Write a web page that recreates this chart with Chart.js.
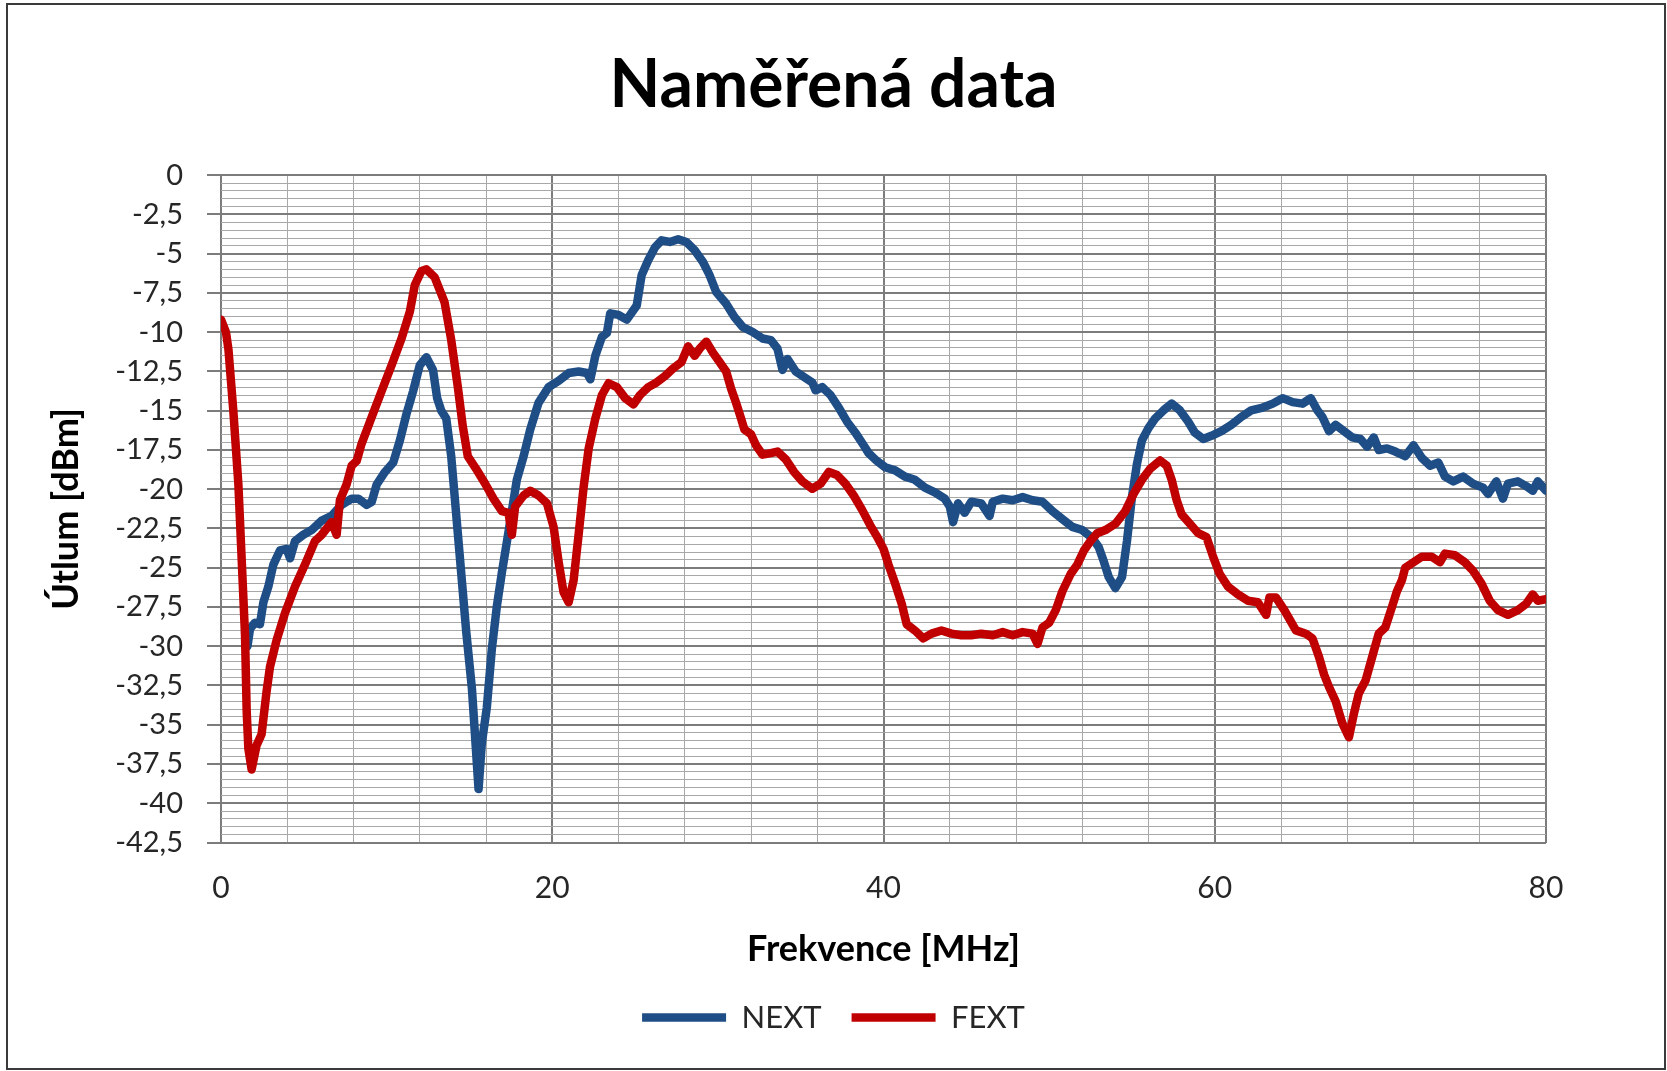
<!DOCTYPE html>
<html lang="cs">
<head>
<meta charset="utf-8">
<title>Naměřená data</title>
<script src="https://cdn.jsdelivr.net/npm/chart.js@4.4.1/dist/chart.umd.min.js"></script>
<style>
  html, body { margin: 0; padding: 0; background: #fff; }
  #wrap { position: relative; width: 1667px; height: 1071px; }
  #frame { position: absolute; left: 6px; top: 3px; width: 1656px; height: 1063px; border: 2px solid #3a3a3a; pointer-events: none; }
</style>
</head>
<body>
<div id="wrap">
  <canvas id="chart" width="1667" height="1071"></canvas>
  <div id="frame"></div>
</div>
<script>
// Naměřená data - NEXT / FEXT
const nextFreq = [1.6, 1.75, 2.05, 2.35, 2.56, 2.86, 3.16, 3.56, 3.96, 4.17, 4.47, 4.97, 5.47, 6.08, 6.68, 7.28, 7.89, 8.29, 8.79, 9.1,
  9.4, 9.9, 10.4, 10.8, 11.2, 11.6, 12.0, 12.4, 12.8, 13.05, 13.3, 13.6, 13.9, 14.2, 14.5, 14.8, 15.15, 15.35, 15.55, 15.75,
  16.05, 16.35, 16.65, 16.96, 17.26, 17.56, 17.86, 18.27, 18.67, 19.17, 19.78, 20.38, 20.99, 21.59, 22.1, 22.3, 22.6, 23.0, 23.3, 23.5,
  24.0, 24.5, 25.1, 25.4, 25.8, 26.2, 26.6, 27.1, 27.6, 28.1, 28.6, 29.1, 29.5, 29.9, 30.5, 31.0, 31.5, 32.1, 32.7, 33.2,
  33.6, 33.9, 34.2, 34.7, 35.2, 35.7, 35.9, 36.3, 36.8, 37.3, 37.8, 38.3, 38.8, 39.1, 39.6, 40.1, 40.7, 41.3, 41.9, 42.5,
  43.1, 43.7, 44.0, 44.2, 44.5, 44.9, 45.3, 45.9, 46.4, 46.6, 47.2, 47.8, 48.4, 49.0, 49.6, 50.2, 50.8, 51.4, 52.0, 52.6,
  53.0, 53.3, 53.6, 54.0, 54.4, 54.7, 55.0, 55.3, 55.6, 56.0, 56.4, 56.9, 57.4, 57.9, 58.4, 58.8, 59.3, 59.8, 60.4, 61.0,
  61.6, 62.2, 62.9, 63.5, 64.1, 64.7, 65.3, 65.8, 66.2, 66.5, 66.9, 67.3, 67.8, 68.3, 68.8, 69.2, 69.6, 69.9, 70.4, 70.9,
  71.5, 72.0, 72.5, 73.0, 73.5, 73.9, 74.4, 75.0, 75.6, 76.2, 76.5, 77.0, 77.4, 77.7, 78.3, 78.8, 79.2, 79.5, 80.0];
const nextVals = [-30.0, -28.9, -28.5, -28.6, -27.2, -26.2, -24.8, -23.9, -23.8, -24.4, -23.3, -22.9, -22.6, -22.0, -21.7, -21.0, -20.6, -20.6, -21.0, -20.8,
  -19.7, -18.9, -18.3, -16.9, -15.2, -13.75, -12.1, -11.6, -12.4, -14.2, -15.0, -15.5, -17.9, -21.6, -25.3, -29.0, -32.7, -35.9, -39.1, -36.15,
  -33.9, -30.2, -27.5, -25.3, -23.35, -21.4, -19.4, -17.9, -16.2, -14.5, -13.5, -13.1, -12.6, -12.5, -12.6, -13.0, -11.5, -10.3, -10.05, -8.8,
  -8.9, -9.2, -8.3, -6.35, -5.4, -4.6, -4.15, -4.25, -4.08, -4.25, -4.78, -5.53, -6.37, -7.44, -8.18, -9.03, -9.67, -9.99, -10.4, -10.5,
  -11.05, -12.4, -11.7, -12.5, -12.85, -13.2, -13.7, -13.5, -14.0, -14.8, -15.7, -16.4, -17.2, -17.7, -18.2, -18.6, -18.8, -19.2, -19.4, -19.9,
  -20.2, -20.6, -21.1, -22.1, -20.9, -21.5, -20.8, -20.9, -21.7, -20.8, -20.6, -20.7, -20.5, -20.7, -20.8, -21.4, -21.9, -22.4, -22.6, -23.1,
  -23.7, -24.6, -25.6, -26.3, -25.6, -23.3, -20.5, -18.4, -16.9, -16.1, -15.5, -14.98, -14.55, -14.98, -15.7, -16.4, -16.8, -16.6, -16.3, -15.9,
  -15.4, -14.98, -14.8, -14.55, -14.2, -14.45, -14.55, -14.2, -14.98, -15.4, -16.3, -15.9, -16.3, -16.7, -16.8, -17.3, -16.7, -17.5, -17.4, -17.6,
  -17.9, -17.2, -18.0, -18.5, -18.3, -19.2, -19.5, -19.2, -19.65, -19.9, -20.3, -19.5, -20.6, -19.65, -19.5, -19.8, -20.1, -19.5, -20.1];

const fextFreq = [0, 0.3, 0.45, 0.74, 1.05, 1.25, 1.45, 1.55, 1.65, 1.85, 2.15, 2.45, 2.75, 2.96, 3.36, 3.86, 4.47, 5.07, 5.67, 6.08,
  6.68, 6.98, 7.18, 7.58, 7.89, 8.19, 8.49, 9.1, 9.7, 10.3, 10.9, 11.4, 11.7, 12.1, 12.4, 12.9, 13.5, 13.9, 14.3, 14.6,
  14.9, 15.4, 15.95, 16.45, 16.96, 17.36, 17.56, 17.76, 18.27, 18.67, 19.17, 19.68, 20.08, 20.38, 20.68, 20.99, 21.29, 21.59, 21.89, 22.2,
  22.6, 23.0, 23.4, 23.9, 24.4, 24.9, 25.3, 25.8, 26.3, 26.8, 27.3, 27.8, 28.2, 28.6, 28.9, 29.3, 29.7, 30.1, 30.5, 30.8,
  31.1, 31.4, 31.6, 32.0, 32.3, 32.7, 33.2, 33.6, 34.1, 34.6, 35.1, 35.7, 36.2, 36.7, 37.2, 37.7, 38.2, 38.7, 39.2, 39.6,
  40.0, 40.3, 40.7, 41.1, 41.4, 41.9, 42.4, 42.9, 43.5, 44.1, 44.7, 45.3, 45.9, 46.6, 47.2, 47.8, 48.4, 49.0, 49.3, 49.6,
  50.0, 50.4, 50.8, 51.3, 51.7, 52.1, 52.5, 52.9, 53.4, 54.0, 54.6, 55.1, 55.6, 56.1, 56.7, 57.1, 57.4, 57.7, 58.0, 58.5,
  59.0, 59.5, 59.9, 60.3, 60.8, 61.4, 62.0, 62.6, 63.1, 63.3, 63.7, 64.2, 64.9, 65.5, 65.9, 66.3, 66.6, 66.9, 67.3, 67.7,
  68.1, 68.4, 68.7, 69.1, 69.5, 69.9, 70.3, 70.7, 71.0, 71.3, 71.5, 72.0, 72.5, 73.1, 73.6, 73.9, 74.5, 75.1, 75.6, 76.1,
  76.6, 77.1, 77.7, 78.3, 78.8, 79.2, 79.5, 80.0];
const fextVals = [-9.2, -10.0, -11.1, -14.95, -19.7, -24.5, -29.3, -34.1, -36.5, -37.85, -36.3, -35.6, -32.9, -31.3, -29.6, -27.9, -26.2, -24.8, -23.3, -22.9,
  -22.1, -22.9, -20.7, -19.7, -18.5, -18.2, -17.1, -15.4, -13.75, -12.1, -10.4, -8.7, -7.0, -6.1, -6.0, -6.5, -8.1, -10.5, -13.5, -16.0,
  -17.9, -18.7, -19.65, -20.6, -21.4, -21.5, -22.9, -21.1, -20.4, -20.1, -20.4, -20.9, -22.4, -24.6, -26.55, -27.2, -25.8, -22.9, -19.9, -17.4,
  -15.5, -14.0, -13.25, -13.5, -14.2, -14.6, -14.0, -13.5, -13.2, -12.8, -12.3, -11.9, -10.9, -11.5, -11.05, -10.6, -11.3, -11.9, -12.5, -13.6,
  -14.5, -15.5, -16.2, -16.5, -17.2, -17.8, -17.7, -17.6, -18.1, -18.9, -19.5, -19.97, -19.65, -18.9, -19.1, -19.65, -20.4, -21.3, -22.3, -23.0,
  -23.8, -24.8, -26.0, -27.3, -28.6, -29.0, -29.5, -29.2, -29.0, -29.2, -29.3, -29.3, -29.2, -29.3, -29.1, -29.3, -29.1, -29.2, -29.85, -28.8,
  -28.5, -27.7, -26.5, -25.4, -24.8, -23.9, -23.3, -22.8, -22.6, -22.2, -21.4, -20.3, -19.4, -18.7, -18.17, -18.5, -19.4, -20.7, -21.6, -22.2,
  -22.8, -23.05, -24.3, -25.4, -26.2, -26.7, -27.1, -27.2, -28.0, -26.9, -26.9, -27.7, -28.99, -29.2, -29.5, -30.7, -31.8, -32.6, -33.5, -34.9,
  -35.8, -34.3, -33.0, -32.2, -30.7, -29.2, -28.8, -27.5, -26.5, -25.8, -25.0, -24.65, -24.3, -24.3, -24.65, -24.1, -24.2, -24.65, -25.2, -26.0,
  -27.1, -27.7, -28.0, -27.7, -27.3, -26.7, -27.1, -27.0];

// popisky os
const xMajor = [0, 20, 40, 60, 80];
const yMajor = [0, -2.5, -5, -7.5, -10, -12.5, -15, -17.5, -20, -22.5, -25, -27.5, -30, -32.5, -35, -37.5, -40, -42.5];

const FONT = 'Lato, "Open Sans", sans-serif';
const GRID_MAJOR = '#7c7c7c';
const GRID_MINOR = '#a8a8a8';

const isMajor = (list, v) => list.some(m => Math.abs(m - v) < 1e-6);
const czNum = v => String(Math.round(v * 10) / 10).replace('.', ',');
const toPoints = (xs, ys) => xs.map((x, i) => ({ x, y: ys[i] }));

const lineStyle = {
    borderWidth: 8.5,
    pointRadius: 0,
    tension: 0,
    borderJoinStyle: 'round',
    borderCapStyle: 'round',
    fill: false
};

new Chart(document.getElementById('chart'), {
    type: 'line',
    data: {
        datasets: [
            { ...lineStyle, label: 'NEXT', data: toPoints(nextFreq, nextVals), borderColor: '#1F4E86', backgroundColor: '#1F4E86', order: 1 },
            { ...lineStyle, label: 'FEXT', data: toPoints(fextFreq, fextVals), borderColor: '#C00000', backgroundColor: '#C00000', order: 0 }
        ]
    },
    options: {
        responsive: false,
        animation: false,
        devicePixelRatio: 1,
        layout: { padding: { top: 6, left: 0, right: 0, bottom: 28 } },
        plugins: {
            tooltip: { enabled: false },
            title: {
                display: true,
                text: 'Naměřená data',
                color: '#000',
                font: { family: FONT, size: 66, weight: 'bold' },
                padding: { top: 40, bottom: 50 }
            },
            legend: {
                position: 'bottom',
                labels: {
                    usePointStyle: true,
                    pointStyle: 'line',
                    pointStyleWidth: 84,
                    padding: 30,
                    color: '#262626',
                    font: { family: FONT, size: 31 },
                    sort: (a, b) => a.datasetIndex - b.datasetIndex
                }
            }
        },
        scales: {
            x: {
                type: 'linear',
                min: 0,
                max: 80,
                afterFit: s => { s.height = 129.5; },
                border: { display: false },
                grid: {
                    drawTicks: false,
                    color: c => isMajor(xMajor, c.tick.value) ? GRID_MAJOR : GRID_MINOR,
                    lineWidth: c => isMajor(xMajor, c.tick.value) ? 2 : 1
                },
                ticks: {
                    stepSize: 4,
                    autoSkip: false,
                    maxRotation: 0,
                    padding: 28,
                    color: '#262626',
                    font: { family: FONT, size: 30 },
                    callback: v => isMajor(xMajor, v) ? String(v) : ''
                },
                title: {
                    display: true,
                    text: 'Frekvence [MHz]',
                    color: '#000',
                    font: { family: FONT, size: 36, weight: 'bold' },
                    padding: { top: 0, bottom: 1 }
                }
            },
            y: {
                type: 'linear',
                min: -42.5,
                max: 0,
                afterFit: s => { s.width = 221; },
                border: { display: false },
                grid: {
                    drawTicks: true,
                    tickLength: 14,
                    color: c => isMajor(yMajor, c.tick.value) ? GRID_MAJOR : GRID_MINOR,
                    lineWidth: c => isMajor(yMajor, c.tick.value) ? 2 : 1,
                    tickColor: c => isMajor(yMajor, c.tick.value) ? GRID_MAJOR : 'rgba(0,0,0,0)'
                },
                ticks: {
                    stepSize: 0.5,
                    autoSkip: false,
                    padding: 24,
                    color: '#262626',
                    font: { family: FONT, size: 29 },
                    callback: v => isMajor(yMajor, v) ? czNum(v) : ''
                },
                title: {
                    display: true,
                    text: 'Útlum [dBm]',
                    color: '#000',
                    font: { family: FONT, size: 36, weight: 'bold' },
                    padding: { top: 45, bottom: 0 }
                }
            },
            // prázdná osa vpravo - jen kvůli odsazení plochy grafu
            yRight: {
                type: 'linear',
                position: 'right',
                min: -42.5,
                max: 0,
                afterFit: s => { s.width = 121; },
                border: { display: false },
                grid: { display: false, drawTicks: false },
                ticks: { display: false }
            }
        }
    }
});
</script>
</body>
</html>
